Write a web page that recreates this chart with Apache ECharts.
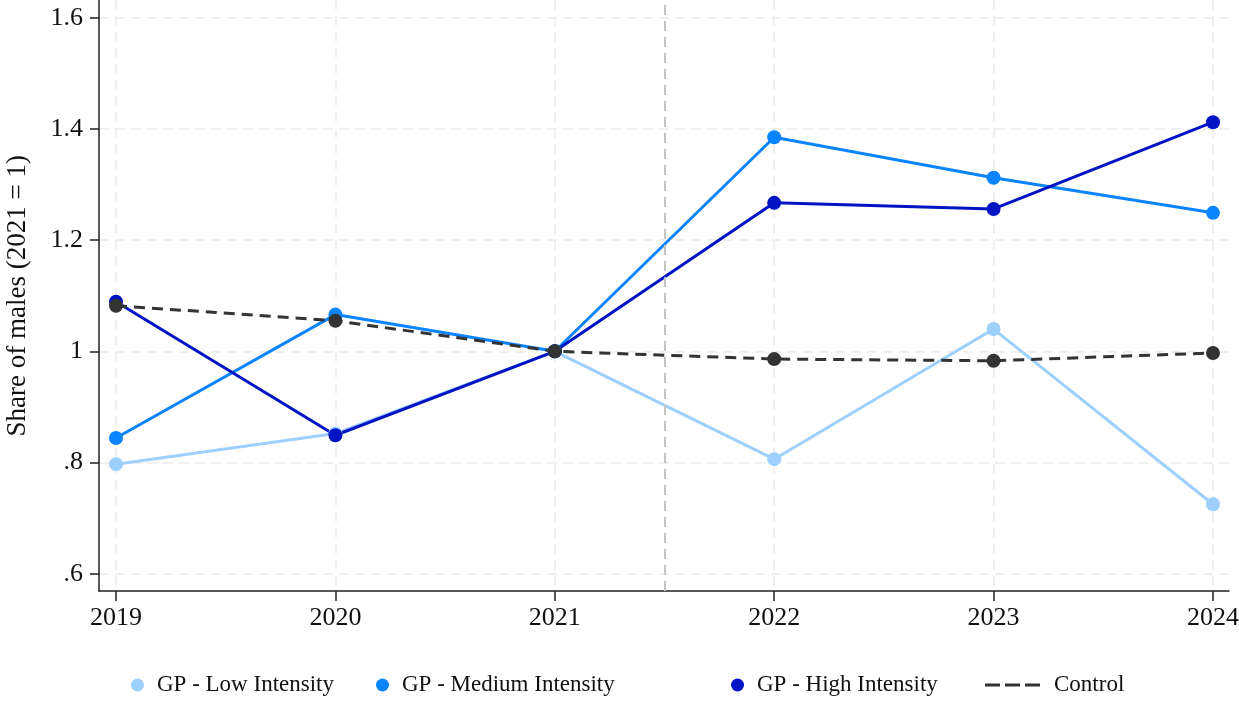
<!DOCTYPE html>
<html>
<head>
<meta charset="utf-8">
<script src="https://cdn.jsdelivr.net/npm/echarts@6/dist/echarts.min.js"></script>
<style>
  html, body { margin: 0; padding: 0; background: #fff; }
  #chart { width: 1239px; height: 701px; }
</style>
</head>
<body>
<div id="chart"></div>
<script>
const years = [2019, 2020, 2021, 2022, 2023, 2024];
const lowIntensity = [0.797, 0.852, 1.0, 0.806, 1.040, 0.725];
const mediumIntensity = [0.844, 1.066, 1.0, 1.385, 1.312, 1.249];
const highIntensity = [1.089, 0.849, 1.0, 1.267, 1.256, 1.412];
const control = [1.082, 1.055, 1.0, 0.986, 0.983, 0.997];
const yTicks = [0.6, 0.8, 1.0, 1.2, 1.4, 1.6];
const treatmentLine = 2021.5;

const FONT = '"Liberation Serif", "Times New Roman", serif';
const splitStyle = { color: '#ececec', width: 1.5, type: [10, 6] };

const pairs = (vals) => years.map((y, i) => [y, vals[i]]);

const chart = echarts.init(document.getElementById('chart'));

const mkSeries = (name, vals, color, dashed) => ({
  name: name,
  type: 'line',
  xAxisIndex: 1,
  yAxisIndex: 1,
  data: pairs(vals),
  symbol: 'circle',
  symbolSize: 14,
  itemStyle: { color: color },
  lineStyle: { color: color, width: 3, type: dashed ? [11, 7] : 'solid' },
  emphasis: { disabled: true },
  z: 3
});

const legendAt = (name, left, icon, w, h, pad) => ({
  data: [{ name: name, icon: icon }],
  left: left,
  top: 673,
  padding: 0,
  itemWidth: w,
  itemHeight: h,
  selectedMode: false,
  textStyle: { fontFamily: FONT, fontSize: 23, color: '#111', lineHeight: 24, padding: [0, 0, 0, pad] }
});

// no auto shrinking of the grids, positions are set by hand
const gridBase = { outerBoundsMode: 'none', containLabel: false };

const option = {
  animation: false,
  backgroundColor: '#fff',
  grid: [
    Object.assign({ left: 99, right: 10, top: 0, bottom: 110 }, gridBase),
    Object.assign({ left: 116, right: 26, top: 0, bottom: 110 }, gridBase),
    Object.assign({ left: 99, right: 10, top: 17.7, bottom: 127.3 }, gridBase)
  ],
  xAxis: [
    { type: 'value', gridIndex: 0, min: 2018.921, max: 2024.074,
      axisLine: { show: true, lineStyle: { color: '#222', width: 1.5 } },
      axisTick: { show: false }, axisLabel: { show: false }, splitLine: { show: false } },
    { type: 'value', gridIndex: 1, min: 2019, max: 2024, interval: 1,
      axisLine: { show: false },
      axisTick: { show: true, length: 10, lineStyle: { color: '#222', width: 1.5 } },
      axisLabel: { fontFamily: FONT, fontSize: 26, color: '#111', margin: 14, formatter: (v) => String(v) },
      splitLine: { show: true, lineStyle: splitStyle } },
    { type: 'value', gridIndex: 2, min: 0, max: 1, show: false }
  ],
  yAxis: [
    { type: 'value', gridIndex: 0, min: 0.5689, max: 1.6318,
      axisLine: { show: true, onZero: false, lineStyle: { color: '#222', width: 1.5 } },
      axisTick: { show: false }, axisLabel: { show: false }, splitLine: { show: false } },
    { type: 'value', gridIndex: 1, min: 0.5689, max: 1.6318, show: false },
    { type: 'value', gridIndex: 2, min: yTicks[0], max: yTicks[yTicks.length - 1], interval: 0.2,
      axisLine: { show: false, onZero: false },
      axisTick: { show: true, length: 9, lineStyle: { color: '#222', width: 1.5 } },
      axisLabel: {
        fontFamily: FONT, fontSize: 26, color: '#111', margin: 16,
        formatter: (v) => {
          const s = String(Math.round(v * 10) / 10);
          return s.startsWith('0') ? s.slice(1) : s;
        }
      },
      splitLine: { show: true, lineStyle: splitStyle },
      name: 'Share of males (2021 = 1)',
      nameLocation: 'middle',
      nameGap: 68,
      nameTextStyle: { fontFamily: FONT, fontSize: 27, color: '#111' } }
  ],
  legend: [
    legendAt('GP - Low Intensity', 131, 'circle', 13, 13, 8),
    legendAt('GP - Medium Intensity', 376, 'circle', 13, 13, 8),
    legendAt('GP - High Intensity', 731, 'circle', 13, 13, 8),
    legendAt('Control', 985, 'path://M0,0h15v3h-15z M20,0h15v3h-15z M40,0h15v3h-15z', 55, 3, 9)
  ],
  series: [
    Object.assign(mkSeries('GP - Low Intensity', lowIntensity, '#9dcfff', false), {
      markLine: {
        silent: true,
        symbol: ['none', 'none'],
        label: { show: false },
        lineStyle: { color: '#c4c4c4', width: 2, type: [10, 6] },
        data: [{ xAxis: treatmentLine }]
      }
    }),
    mkSeries('GP - Medium Intensity', mediumIntensity, '#0a84ff', false),
    mkSeries('GP - High Intensity', highIntensity, '#0014c4', false),
    mkSeries('Control', control, '#333333', true)
  ]
};

chart.setOption(option);
</script>
</body>
</html>
